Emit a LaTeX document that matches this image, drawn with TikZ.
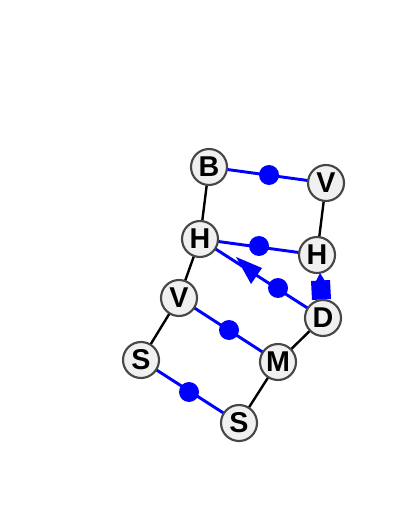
\documentclass[tikz,border=0pt]{standalone}
\usepackage{fontspec}
\setmainfont{Liberation Sans}
\begin{document}
\begin{tikzpicture}[x=0.75pt,y=-0.75pt,
  atom/.style={circle,draw=black!72,line width=1.6pt,fill=black!6,minimum size=27pt,inner sep=0pt,font=\fontsize{21.5}{21.5}\selectfont\bfseries},
  bond/.style={black,line width=1.8pt},
  hb/.style={blue,line width=2.2pt},
  hdot/.style={circle,fill=blue,inner sep=0pt,minimum size=15pt}]
\useasboundingbox (0,0) rectangle (400,523);
\coordinate (pB) at (209,167);
\coordinate (pV1) at (326,183);
\coordinate (pH1) at (200,239);
\coordinate (pH2) at (317,255);
\coordinate (pV2) at (179,298);
\coordinate (pD) at (323,318);
\coordinate (pS1) at (141,360);
\coordinate (pM) at (278,362);
\coordinate (pS2) at (239,423);
% black bonds
\draw[bond] (pB) -- (pH1);
\draw[bond] (pH1) -- (pV2);
\draw[bond] (pV2) -- (pS1);
\draw[bond] (pV1) -- (pH2);
\draw[bond] (pD) -- (pM);
\draw[bond] (pM) -- (pS2);
% blue links
\draw[hb] (pB) -- (pV1);
\draw[hb] (pH1) -- (pH2);
\draw[hb] (pH1) -- (pD);
\draw[hb] (pV2) -- (pM);
\draw[hb] (pS1) -- (pS2);
\node[hdot] (d1) at (269,175) {};
\node[hdot] (d2) at (259,246) {};
\node[hdot] (d3) at (278,288) {};
\node[hdot] (d4) at (229,330) {};
\node[hdot] (d5) at (189,392) {};
% arrowhead on H-D link
\fill[blue] (236,257) -- (262,268) -- (251,284) -- cycle;
% square and tip on H-D
\fill[blue] (311,281) -- (330,280) -- (331,299) -- (312,300) -- cycle;
\fill[blue] (316,281) -- (320,273) -- (325,281) -- cycle;
% atoms
\node[atom] (B) at (pB) {B};
\node[atom] (V1) at (pV1) {V};
\node[atom] (H1) at (pH1) {H};
\node[atom] (H2) at (pH2) {H};
\node[atom] (V2) at (pV2) {V};
\node[atom] (D) at (pD) {D};
\node[atom] (S1) at (pS1) {S};
\node[atom] (M) at (pM) {M};
\node[atom] (S2) at (pS2) {S};
\end{tikzpicture}
\end{document}
